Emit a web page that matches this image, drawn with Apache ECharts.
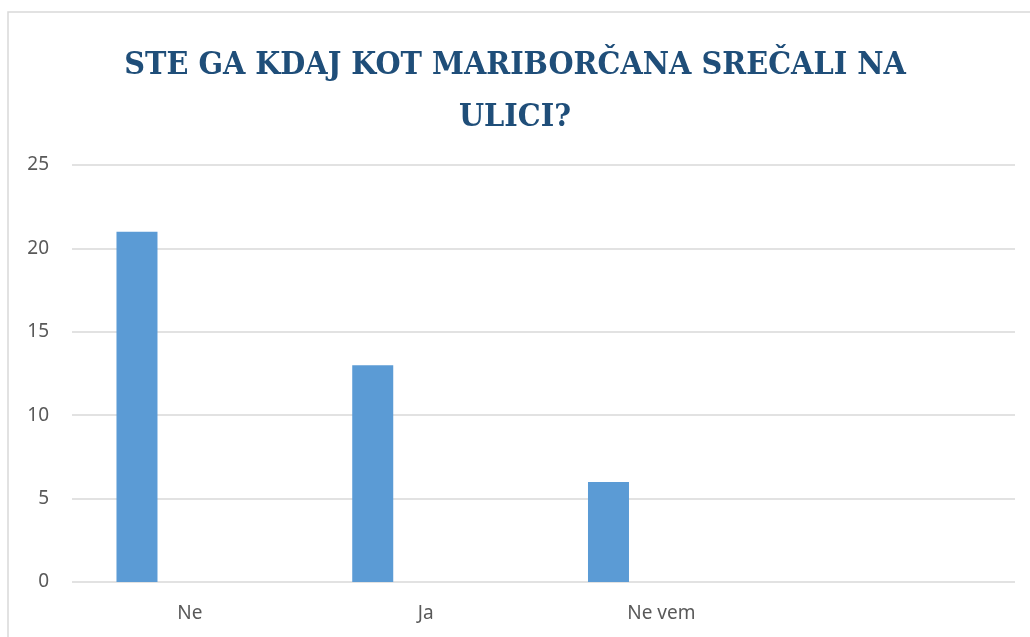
<!DOCTYPE html>
<html>
<head>
<meta charset="utf-8">
<script src="https://cdn.jsdelivr.net/npm/echarts@6/dist/echarts.min.js"></script>
<style>
  html, body { margin: 0; padding: 0; background: #fff; }
  #main { width: 1030px; height: 637px; }
</style>
</head>
<body>
<div id="main"></div>
<script>
const categories = ["Ne", "Ja", "Ne vem", ""];
const answers = [21, 13, 6, null];
const empty = [null, null, null, null];
const yTicks = [0, 5, 10, 15, 20, 25];

const chart = echarts.init(document.getElementById("main"));

chart.setOption({
  animation: false,
  backgroundColor: "#fff",
  title: {
    text: "STE GA KDAJ KOT MARIBORČANA SREČALI NA\nULICI?",
    left: "center",
    top: 35,
    padding: [5, 5, 5, 23],
    textStyle: {
      fontFamily: "DejaVu Serif Condensed",
      fontWeight: "bold",
      fontSize: 32,
      lineHeight: 52,
      color: "#1F4E79",
    },
  },
  graphic: [
    {
      type: "rect",
      shape: { x: 8, y: 12, width: 1040, height: 640 },
      style: { fill: "none", stroke: "#d9d9d9", lineWidth: 1.5 },
      silent: true,
    },
  ],
  grid: { left: 72, right: 15, top: 165, bottom: 55 },
  xAxis: {
    type: "category",
    data: categories,
    axisLine: { show: false },
    axisTick: { show: false },
    axisLabel: {
      margin: 22,
      fontFamily: "Noto Sans",
      fontSize: 19,
      color: "#595959",
    },
  },
  yAxis: {
    type: "value",
    min: yTicks[0],
    max: yTicks[yTicks.length - 1],
    interval: 5,
    axisLine: { show: false },
    axisTick: { show: false },
    splitLine: { lineStyle: { color: "#d9d9d9", width: 1.5 } },
    axisLabel: {
      margin: 23,
      fontFamily: "Noto Sans",
      fontSize: 19,
      color: "#595959",
    },
  },
  series: [
    {
      type: "bar",
      data: answers,
      barWidth: 41,
      barGap: "158%",
      itemStyle: { color: "#5B9BD5" },
    },
    {
      type: "bar",
      data: empty,
      barWidth: 41,
      itemStyle: { color: "#ED7D31" },
    },
  ],
});
</script>
</body>
</html>
